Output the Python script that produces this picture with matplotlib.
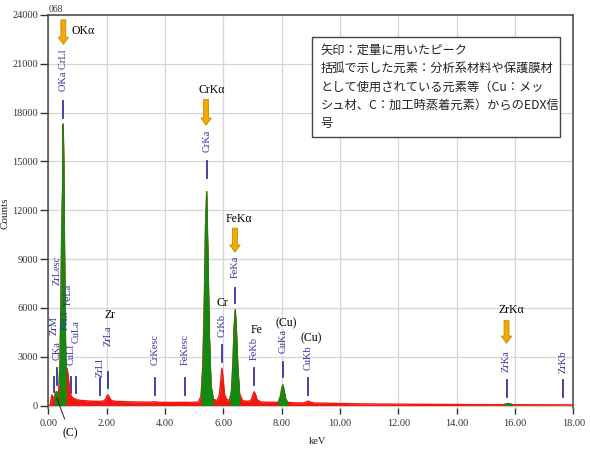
import matplotlib
matplotlib.use("Agg")
import matplotlib.pyplot as plt
from matplotlib.patches import FancyArrow, Rectangle
import numpy as np

# ---------------- data ----------------
energy_keV = [0.00, 0.06, 0.09, 0.12, 0.15, 0.18, 0.21, 0.25, 0.28, 0.31,
              0.34, 0.37, 0.40, 0.43, 0.46, 0.49, 0.51, 0.53, 0.55, 0.58,
              0.61, 0.64, 0.67, 0.70, 0.73, 0.76, 0.80, 0.85, 0.90, 0.95,
              1.00, 1.10, 1.25, 1.40, 1.60, 1.80, 1.92, 1.98, 2.03, 2.07,
              2.12, 2.18, 2.30, 2.60, 3.00, 3.40, 3.67, 3.80, 4.20, 4.66,
              4.90, 5.15, 5.24, 5.30, 5.35, 5.39, 5.43, 5.47, 5.52, 5.58,
              5.66, 5.78, 5.86, 5.91, 5.95, 5.99, 6.04, 6.12, 6.22, 6.28,
              6.33, 6.37, 6.41, 6.45, 6.50, 6.56, 6.66, 6.85, 6.96, 7.01,
              7.06, 7.11, 7.17, 7.30, 7.60, 7.88, 7.95, 8.00, 8.04, 8.08,
              8.13, 8.20, 8.40, 8.75, 8.85, 8.91, 8.97, 9.10, 9.60, 10.5,
              11.5, 12.5, 13.5, 14.5, 15.3, 15.62, 15.70, 15.77, 15.84, 15.92,
              16.5, 17.2, 18.0]
counts = [0, 0, 350, 650, 550, 420, 500, 780, 860, 650,
          700, 1400, 2600, 6000, 11000, 13400, 17300, 15200, 11000, 5200,
          1800, 2300, 2000, 1500, 1000, 700, 550, 450, 420, 380,
          350, 320, 300, 280, 260, 260, 300, 450, 650, 600,
          400, 300, 260, 240, 220, 210, 230, 200, 190, 200,
          190, 220, 600, 2500, 6500, 11000, 13150, 9500, 4500, 1200,
          400, 300, 600, 1500, 2300, 1700, 700, 350, 350, 900,
          2600, 4800, 5900, 4600, 2300, 700, 300, 250, 350, 650,
          850, 650, 330, 220, 200, 200, 500, 1000, 1270, 1000,
          450, 200, 170, 160, 220, 280, 220, 160, 140, 110,
          90, 80, 70, 60, 55, 60, 100, 120, 100, 55,
          50, 45, 40]

# quantified (green) peak windows, keV
green_windows = [(0.21, 0.34), (0.37, 0.61), (5.24, 5.66), (6.22, 6.56),
                 (7.88, 8.20), (15.62, 15.92)]

# line labels: text, keV, marker low, marker high, text bottom (counts)
line_labels = ["OKa CrLl", "ZrM", "CKa", "ZrLesc", "FeLl", "FeLa", "CuLl", "CuLa",
               "ZrLl", "ZrLa", "CrKesc", "FeKesc", "CrKa", "CrKb", "FeKa",
               "FeKb", "CuKa", "CuKb", "ZrKa", "ZrKb"]
line_keV = [0.52, 0.19, 0.29, 0.31, 0.57, 0.68, 0.77, 0.95,
            1.77, 2.05, 3.66, 4.68, 5.43, 5.95, 6.41,
            7.06, 8.04, 8.90, 15.71, 17.65]
marker_lo = [17700, 840, 1270, None, None, None, 780, 780,
             660, 1090, 660, 660, 14000, 2700, 6320,
             1270, 1770, 660, 530, 500]
marker_hi = [18700, 1770, 2320, None, None, None, 1770, 1770,
             1710, 2080, 1710, 1710, 15000, 3730, 7240,
             2320, 2690, 1710, 1580, 1600]
text_bottom = [19300, 4350, 2810, 7430, 4650, 6200, 2500, 3860,
               1770, 3630, 2500, 2500, 15600, 4230, 7860,
               2810, 3240, 2200, 2060, 2000]

# quantification arrows: label, keV, start counts, end counts
arrow_labels = ["OKα", "CrKα", "FeKα", "ZrKα"]
arrow_keV = [0.515, 5.41, 6.40, 15.71]
arrow_start = [23700, 18800, 10900, 5220]
arrow_end = [22200, 17230, 9430, 3830]

# element notes (black text)
note_labels = ["Zr", "Cr", "Fe", "(Cu)", "(Cu)"]
note_keV = [2.12, 5.98, 7.15, 8.15, 9.00]
note_counts = [5560, 6300, 4650, 5080, 4160]

x_ticks = [0, 2, 4, 6, 8, 10, 12, 14, 16, 18]
y_ticks = [0, 3000, 6000, 9000, 12000, 15000, 18000, 21000, 24000]

box_text = ("矢印：定量に用いたピーク\n"
            "括弧で示した元素：分析系材料や保護膜材\n"
            "として使用されている元素等（Cu：メッ\n"
            "シュ材、C：加工時蒸着元素）からのEDX信\n"
            "号")

# ---------------- plot ----------------
SERIF = ["Liberation Serif", "DejaVu Serif"]
RED = "#ee1a12"
GREEN = "#128a12"
BLUE = "#34349e"
ORANGE = "#f2a900"

fig = plt.figure(figsize=(5.9, 4.5), dpi=100)
ax = fig.add_axes([48.3 / 590, 1 - 408 / 450, 525 / 590, 393 / 450])
ax.set_xlim(0, 18)
ax.set_ylim(-150, 24000)

e = np.array(energy_keV)
c = np.array(counts)
ax.fill_between(e, 0, c, color=RED, lw=0, zorder=3)
ax.plot(e, c, color=RED, lw=1.0, zorder=3)
for lo, hi in green_windows:
    m = (e >= lo) & (e <= hi)
    ax.fill_between(e, 0, c, where=m, color=GREEN, lw=0, zorder=4)
    ax.plot(e[m], c[m], color=GREEN, lw=0.8, zorder=4)

# marker lines + labels
for t, x, lo, hi, tb in zip(line_labels, line_keV, marker_lo, marker_hi, text_bottom):
    if lo is not None:
        ax.plot([x, x], [lo, hi], color=BLUE, lw=1.3, zorder=2)
    ax.text(x, tb, t, rotation=90, ha="center", va="bottom", color=BLUE,
            fontsize=7.5, family=SERIF, zorder=6)

# arrows
for t, x, s, en in zip(arrow_labels, arrow_keV, arrow_start, arrow_end):
    ar = FancyArrow(x, s, 0, en - s, width=0.17, head_width=0.36,
                    head_length=440, length_includes_head=True,
                    fc=ORANGE, ec="#c58a00", lw=0.6, zorder=7)
    ax.add_patch(ar)

ax.text(0.80, 23000, "OKα", ha="left", va="center", fontsize=8.5, family=SERIF, zorder=7)
ax.text(5.60, 19400, "CrKα", ha="center", va="center", fontsize=8.5, family=SERIF, zorder=7)
ax.text(6.55, 11450, "FeKα", ha="center", va="center", fontsize=8.5, family=SERIF, zorder=7)
ax.text(15.89, 5880, "ZrKα", ha="center", va="center", fontsize=8.5, family=SERIF, zorder=7)

for t, x, y in zip(note_labels, note_keV, note_counts):
    ax.text(x, y, t, ha="center", va="center", fontsize=8.5, family=SERIF, zorder=7)

# (C) annotation below axis
ax.annotate("(C)", xy=(0.29, 470), xytext=(0.74, -1690), textcoords="data",
            ha="center", va="center", fontsize=8.5, family=SERIF,
            arrowprops=dict(arrowstyle="-", color="#222222", lw=0.7,
                            shrinkA=4, shrinkB=0),
            annotation_clip=False, zorder=7)

# text box
ax.add_patch(Rectangle((9.04, 16500), 8.50, 6140, fc="white", ec="#444444",
                       lw=1.0, zorder=8))
ax.text(9.33, 22250, box_text, ha="left", va="top", fontsize=8.8,
        family=["Noto Sans CJK JP", "DejaVu Sans"], linespacing=1.55,
        color="#222222", zorder=9)

# axes styling
ax.set_xticks(x_ticks)
ax.set_xticklabels([f"{v:.2f}" for v in x_ticks])
ax.set_yticks(y_ticks)
ax.set_yticklabels([str(v) for v in y_ticks])
ax.grid(True, color="#d6d6d6", lw=0.9, zorder=0)
ax.set_axisbelow(True)
for lab in ax.get_xticklabels() + ax.get_yticklabels():
    lab.set_family(SERIF)
    lab.set_fontsize(7.5)
    lab.set_color("#333333")
ax.tick_params(axis="y", direction="out", length=6, width=1, color="#333333", pad=1.5)
ax.tick_params(axis="x", direction="out", length=4, width=1, color="#333333", pad=4)
ax.spines["bottom"].set_visible(False)
for s in ["left", "top", "right"]:
    ax.spines[s].set_color("#444444")
    ax.spines[s].set_linewidth(1.1)

ax.set_ylabel("Counts", family=SERIF, fontsize=8, color="#222222")
ax.yaxis.set_label_coords(-(48.3 - 10) / 525, (408 - 213) / 393)
ax.set_xlabel("keV", family=SERIF, fontsize=7.5, color="#222222")
ax.xaxis.set_label_coords((318 - 48.3) / 525, -(437 - 408) / 393)

fig.text(49 / 590, 1 - 9 / 450, "068", ha="left", va="center", fontsize=7,
         family=SERIF, color="#333333")

fig.savefig("out.png", dpi=100)
